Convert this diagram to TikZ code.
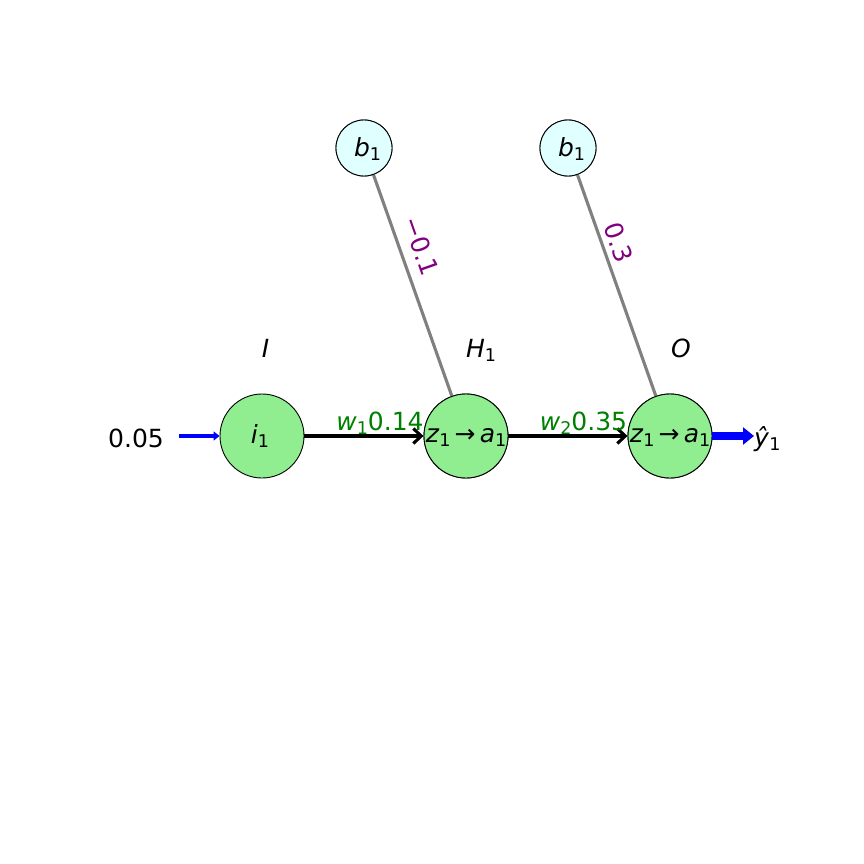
\documentclass[tikz,border=0pt]{standalone}
\usepackage{fontspec}
\setmainfont{DejaVu Sans}
\usetikzlibrary{arrows.meta}
\definecolor{lgreen}{RGB}{144,238,144}
\definecolor{lcyan}{RGB}{224,255,255}
\definecolor{mgreen}{RGB}{0,128,0}
\definecolor{mpurple}{RGB}{128,0,128}
\definecolor{mgray}{RGB}{128,128,128}
\newcommand\sbs[1]{\raisebox{-0.16em}{\fontsize{17.5}{17.5}\selectfont #1}}
\begin{document}
\begin{tikzpicture}[x=1pt,y=-1pt,
  txt/.style={inner sep=0pt,font=\fontsize{25}{30}\selectfont},
  neuron/.style={circle,draw=black,line width=0.9pt,fill=lgreen,minimum size=84pt,inner sep=0pt},
  biasnode/.style={circle,draw=black,line width=0.9pt,fill=lcyan,minimum size=56pt,inner sep=0pt},
  wline/.style={line width=3.1pt,-{Straight Barb[length=8pt,width=15pt,line width=3.1pt]}},
  bline/.style={line width=3.1pt,draw=mgray},
  wlabel/.style={txt,text=mgreen,anchor=base},
  blabel/.style={txt,text=mpurple,rotate=-70.5},
  inarrow/.style={draw=blue,line width=4.8pt,-{Triangle[length=6pt,width=9pt]}},
  outarrow/.style={draw=blue,line width=8pt,-{Triangle[length=11pt,width=17pt]}}]
\fill[white] (0,0) rectangle (864,864);
\useasboundingbox (0,0) rectangle (864,864);
\node[biasnode] (bA) at (364,148) {};
\node[biasnode] (bB) at (568,148) {};
\node[neuron] (i1) at (262,436) {};
\node[neuron] (h1) at (466,436) {};
\node[neuron] (o1) at (670,436) {};
\draw[bline] (bA) -- (h1);
\draw[bline] (bB) -- (o1);
\node[biasnode] at (bA) {};
\node[biasnode] at (bB) {};
\node[neuron] at (h1) {};
\node[neuron] at (o1) {};
% texts
\node[txt,anchor=base] (bAt) at (367.5,156.5) {\textit{b}\sbs{1}};
\node[txt,anchor=base] (bBt) at (571.5,156.5) {\textit{b}\sbs{1}};
\node[txt,anchor=base] (i1t) at (260,443) {\textit{i}\sbs{1}};
\node[txt,anchor=base] (h1t) at (466,442) {\textit{z}\sbs{1}\,→\,\textit{a}\sbs{1}};
\node[txt,anchor=base] (o1t) at (670,442) {\textit{z}\sbs{1}\,→\,\textit{a}\sbs{1}};
\node[txt,anchor=base] (lI) at (265.5,357.5) {\textit{I}};
\node[txt,anchor=base] (lH) at (481,357.5) {\textit{H}\sbs{1}};
\node[txt,anchor=base] (lO) at (681,357.5) {\textit{O}};
\node[txt,anchor=base] (inval) at (136,447.5) {0.05};
\node[txt,anchor=base west] (yhat) at (754,446.5) {\textit{ŷ}\sbs{1}};
\coordinate (inS) at (179,436);
\coordinate (outE) at (754,436);
% connectors
\draw[inarrow] (inS) -- (i1);
\draw[wline] (i1) -- (h1);
\draw[wline] (h1) -- (o1);
\draw[outarrow] (o1) -- (outE);
% labels
\node[wlabel] (w1) at (380,430) {\textit{w}\sbs{1}0.14};
\node[wlabel] (w2) at (583.5,430) {\textit{w}\sbs{2}0.35};
\node[blabel] (bw1) at (421,246) {−0.1};
\node[blabel] (bw2) at (618.5,242.5) {0.3};
\end{tikzpicture}
\end{document}
